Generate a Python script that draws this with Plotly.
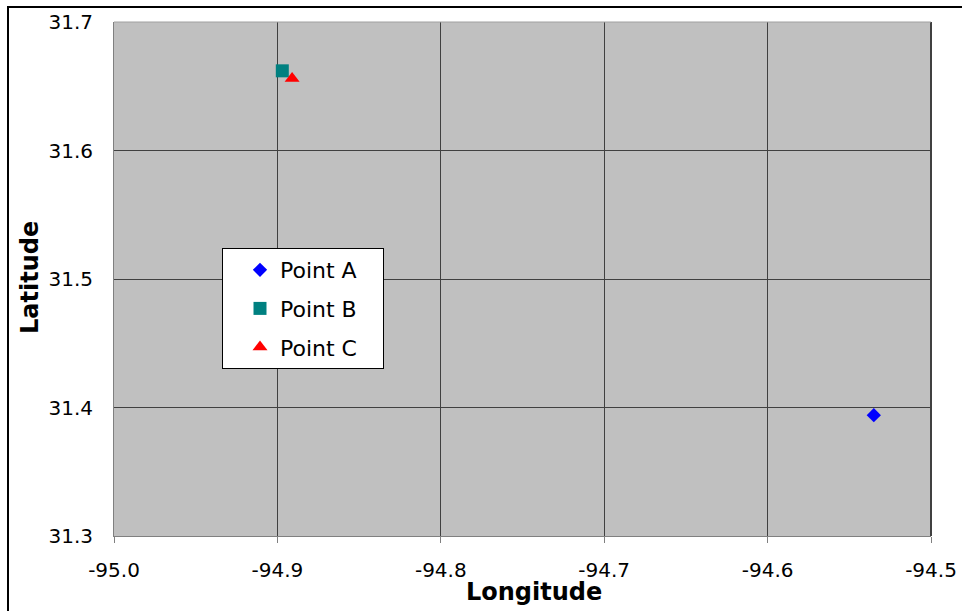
import plotly.graph_objects as go

names = ["Point A", "Point B", "Point C"]
lons = [-94.535, -94.897, -94.891]
lats = [31.394, 31.662, 31.656]
symbols = ["diamond", "square", "triangle-up"]
colors = ["#0000FF", "#008080", "#FF0000"]
sizes = [11, 13, 13]

x_ticks = [-95.0, -94.9, -94.8, -94.7, -94.6, -94.5]
y_ticks = [31.3, 31.4, 31.5, 31.6, 31.7]

W, H = 962, 611
PL, PR, PT, PB = 114, 931, 22, 536
PW, PH = PR - PL, PB - PT

def px(x):
    return (x - PL) / PW

def py(y):
    return (PB - y) / PH

PAD = "\u00a0\u00a0\u00a0"

fig = go.Figure()
for i in range(3):
    fig.add_trace(go.Scatter(
        x=[lons[i]], y=[lats[i]], mode="markers", name=names[i] + PAD,
        legendgroup=names[i],
        marker=dict(symbol=symbols[i], color=colors[i], size=sizes[i], line=dict(width=0)),
    ))

font = "DejaVu Sans, sans-serif"
fig.update_layout(
    width=W, height=H,
    margin=dict(l=PL, r=W - PR, t=PT, b=H - PB, autoexpand=False),
    paper_bgcolor="white", plot_bgcolor="#C0C0C0",
    font=dict(family=font, size=20, color="black"),
    showlegend=True,
    legend=dict(x=px(222), y=py(248), xanchor="left", yanchor="top",
                bgcolor="white", bordercolor="black", borderwidth=1,
                font=dict(size=22), tracegroupgap=7, indentation=17),
)
fig.update_xaxes(range=[-95.0, -94.5], tickvals=x_ticks,
                 ticktext=[f"{v:.1f}" for v in x_ticks],
                 showgrid=True, gridcolor="#404040", gridwidth=1,
                 zeroline=False, showline=True, linecolor="#808080", linewidth=1,
                 ticks="outside", ticklen=6, tickcolor="#808080",
                 ticklabelstandoff=10, ticklabeloverflow="allow", automargin=False)
fig.update_yaxes(range=[31.3, 31.7], tickvals=y_ticks,
                 ticktext=[f"{v:.1f}" for v in y_ticks],
                 showgrid=True, gridcolor="#404040", gridwidth=1,
                 zeroline=False, showline=True, linecolor="#808080", linewidth=1,
                 ticks="", ticklabelstandoff=16, ticklabeloverflow="allow", automargin=False)

# plot-area right/top edges
fig.add_shape(type="line", xref="paper", yref="paper", x0=1, x1=1, y0=0, y1=1,
              line=dict(color="#404040", width=2))
fig.add_shape(type="line", xref="paper", yref="paper", x0=0, x1=1, y0=1, y1=1,
              line=dict(color="#A0A0A0", width=1))
# outer chart border
fig.add_shape(type="rect", xref="paper", yref="paper",
              x0=px(8), x1=px(980), y0=py(630), y1=py(7),
              line=dict(color="black", width=2), layer="below")

fig.add_annotation(text="<b>Longitude</b>", xref="paper", yref="paper",
                   x=px(534), y=py(592),
                   showarrow=False, font=dict(size=24, family=font),
                   xanchor="center", yanchor="middle")
fig.add_annotation(text="<b>Latitude</b>", xref="paper", yref="paper",
                   x=px(30), y=py(278), textangle=-90,
                   showarrow=False, font=dict(size=24, family=font),
                   xanchor="center", yanchor="middle")

fig.write_html("out.html", config={"displayModeBar": False},
               post_script="document.body.style.margin='0';document.body.style.overflow='hidden';")
